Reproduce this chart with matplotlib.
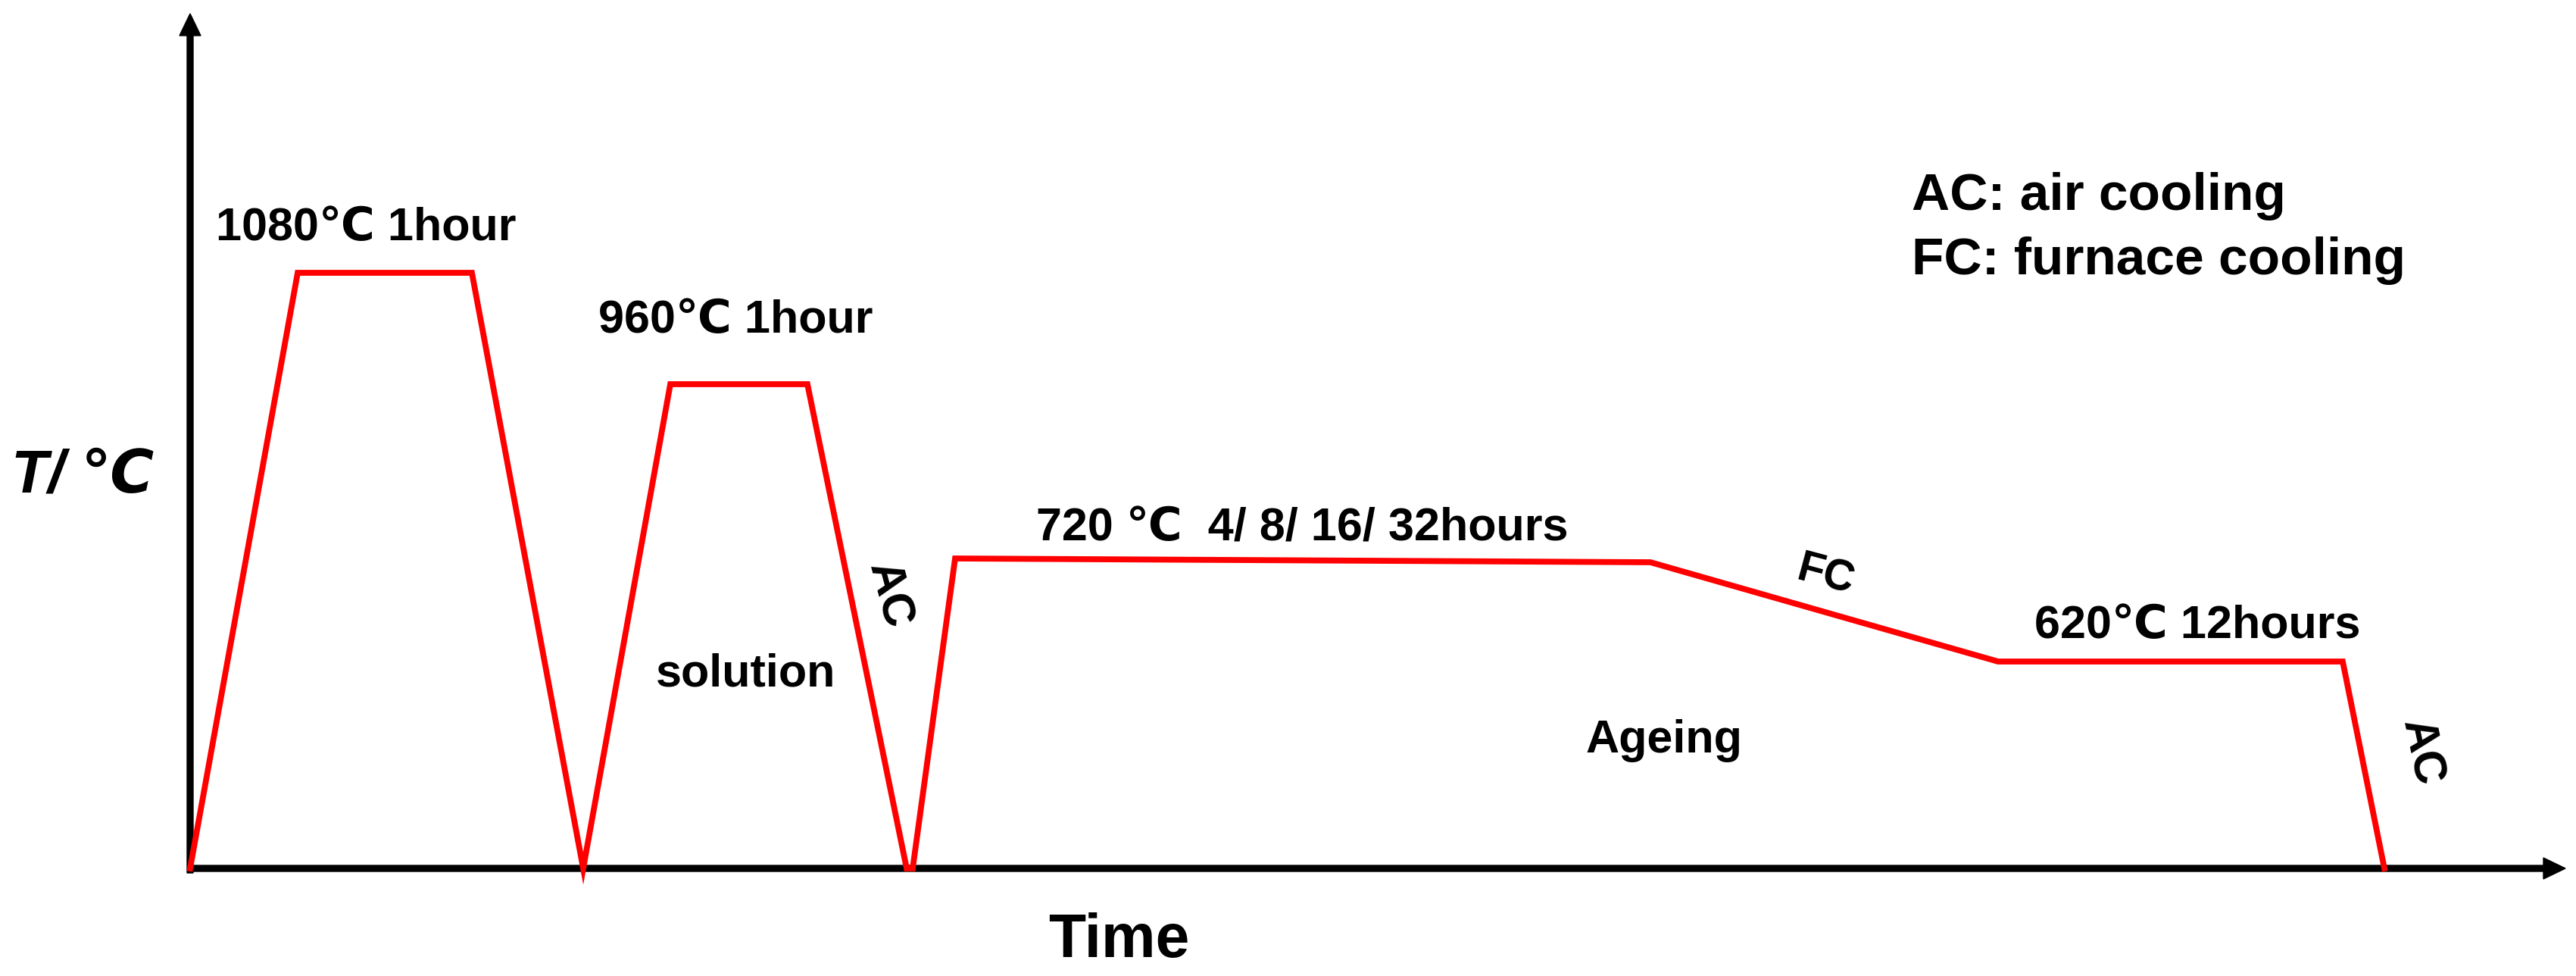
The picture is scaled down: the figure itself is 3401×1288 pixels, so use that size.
import matplotlib
matplotlib.use("Agg")
import matplotlib.pyplot as plt
from matplotlib.patches import FancyArrow

plt.rcParams['font.family'] = ['Liberation Sans', 'DejaVu Sans']

# heat-treatment schedule (schematic units: time, temperature level)
time = [0, 14.2, 37.2, 51.9, 63.4, 81.5, 94.6, 95.4, 101.0, 192.8, 238.7, 284.2, 289.7]
temp = [0, 78.6, 78.6, 0, 63.9, 63.9, 0, 0, 40.9, 40.4, 27.3, 27.3, 0]

x_end = 313.6
y_end = 112.8

fig = plt.figure(figsize=(34.01, 12.88), dpi=100)
ax = fig.add_axes([0, 0, 1, 1])
ax.set_xlim(-25.1, 315.0)
ax.set_ylim(-14.2, 114.6)
ax.axis("off")

# axes arrows
ax.add_patch(FancyArrow(0, 0, x_end, 0, width=0.8, head_width=2.8, head_length=2.9,
                        length_includes_head=True, color="black", zorder=2))
ax.add_patch(FancyArrow(0, -0.6, 0, y_end + 0.6, width=0.8, head_width=2.8, head_length=2.9,
                        length_includes_head=True, color="black", zorder=2))

ax.plot(time, temp, color="#ff0000", lw=5.6, solid_joinstyle="miter", zorder=3)

ax.text(23.2, 82.9, "1080℃ 1hour", fontweight="bold", fontsize=44, ha="center", va="baseline")
ax.text(72.0, 70.7, "960℃ 1hour", fontweight="bold", fontsize=44, ha="center", va="baseline")
ax.text(73.4, 24.0, "solution", fontweight="bold", fontsize=44, ha="center", va="baseline")
ax.text(92.2, 36.1, "AC", fontweight="bold", fontsize=44, rotation=-75, ha="center", va="center")
ax.text(111.7, 43.2, "720 ℃  4/ 8/ 16/ 32hours", fontweight="bold", fontsize=44, ha="left", va="baseline")
ax.text(215.9, 38.6, "FC", fontweight="bold", fontsize=41, rotation=-15, ha="center", va="center")
ax.text(265.0, 30.4, "620℃ 12hours", fontweight="bold", fontsize=44, ha="center", va="baseline")
ax.text(194.6, 15.3, "Ageing", fontweight="bold", fontsize=44, ha="center", va="baseline")
ax.text(294.5, 15.3, "AC", fontweight="bold", fontsize=44, rotation=-78, ha="center", va="center")

ax.text(122.6, -11.7, "Time", fontweight="bold", fontsize=58, ha="center", va="baseline")
ax.text(-23.6, 49.6, "T/ ℃", fontweight="bold", fontstyle="italic", fontsize=57,
        ha="left", va="baseline")

ax.text(227.3, 86.9, "AC: air cooling", fontweight="bold", fontsize=50, ha="left", va="baseline")
ax.text(227.3, 78.4, "FC: furnace cooling", fontweight="bold", fontsize=50, ha="left", va="baseline")

fig.savefig("out.png", dpi=100, facecolor="white")
